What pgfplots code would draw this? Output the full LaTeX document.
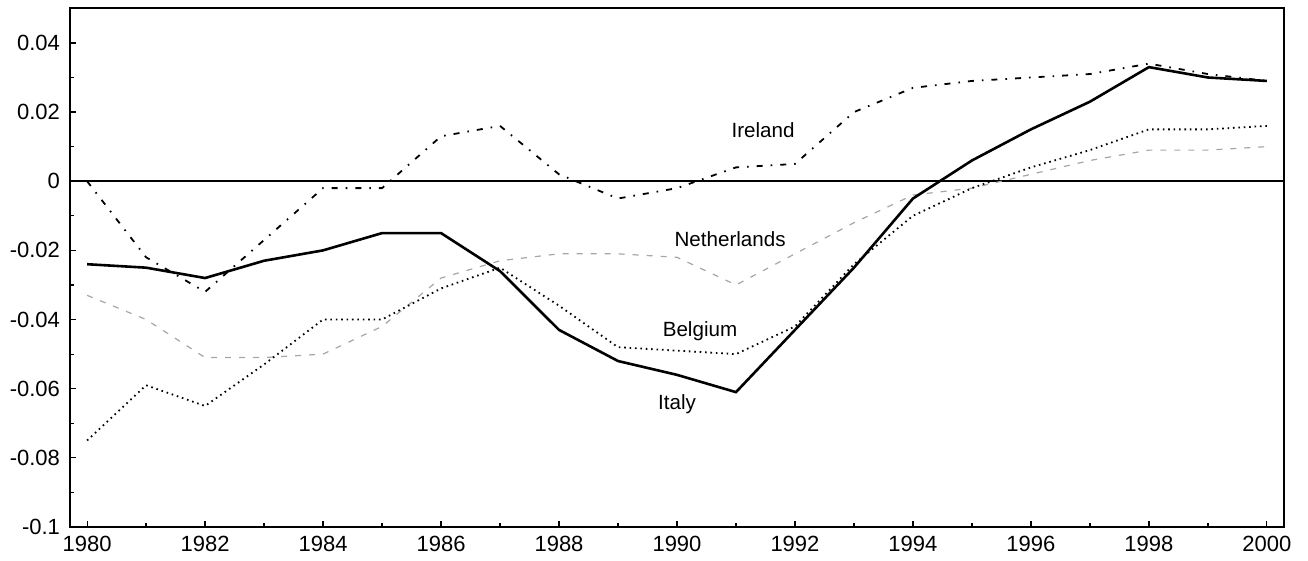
\documentclass[border=0pt]{standalone}
\usepackage{fontspec}
\setmainfont{Liberation Sans}
\usepackage{pgfplots}
\pgfplotsset{compat=1.18}
\begin{document}
\begin{tikzpicture}
\begin{axis}[
  scale only axis,
  width=607pt, height=259.5pt,
  xmin=1979.71, xmax=2000.29,
  ymin=-0.1, ymax=0.0501,
  axis line style={line width=1pt},
  xtick={1980,1982,...,2000},
  xticklabels={1980,1982,1984,1986,1988,1990,1992,1994,1996,1998,2000},
  minor xtick={1981,1983,...,1999},
  ytick={-0.1,-0.08,-0.06,-0.04,-0.02,0,0.02,0.04},
  yticklabels={-0.1,-0.08,-0.06,-0.04,-0.02,0,0.02,0.04},
  minor ytick={-0.09,-0.07,-0.05,-0.03,-0.01,0.01,0.03},
  tick align=inside,
  major tick length=3pt, minor tick length=2pt,
  tick style={black, line width=0.6pt},
  xtick pos=bottom, ytick pos=left,
  tick label style={font=\fontsize{11}{13}\selectfont},
  every x tick label/.style={yshift=-1pt},
  every y tick label/.style={xshift=-1.5pt},
  clip=false,
]
\path (rel axis cs:0,0) ++(-35pt,-17pt) (rel axis cs:1,1) ++(12pt,4pt);
\addplot[black, line width=1pt, forget plot] coordinates {(1979.71,0) (2000.29,0)};
% Netherlands
\addplot[gray!70, line width=0.6pt, dash pattern=on 3pt off 4pt] coordinates {
(1980,-0.033) (1981,-0.040) (1982,-0.051) (1983,-0.051) (1984,-0.050) (1985,-0.042)
(1986,-0.028) (1987,-0.023) (1988,-0.021) (1989,-0.021) (1990,-0.022) (1991,-0.030)
(1992,-0.021) (1993,-0.012) (1994,-0.004) (1995,-0.002) (1996,0.002) (1997,0.006)
(1998,0.009) (1999,0.009) (2000,0.010)};
% Belgium
\addplot[black, line width=0.9pt, dash pattern=on 0.8pt off 1.9pt] coordinates {
(1980,-0.075) (1981,-0.059) (1982,-0.065) (1983,-0.053) (1984,-0.040) (1985,-0.040)
(1986,-0.031) (1987,-0.025) (1988,-0.036) (1989,-0.048) (1990,-0.049) (1991,-0.050)
(1992,-0.042) (1993,-0.024) (1994,-0.010) (1995,-0.002) (1996,0.004) (1997,0.009)
(1998,0.015) (1999,0.015) (2000,0.016)};
% Ireland
\addplot[black, line width=0.9pt, dash pattern=on 3pt off 4pt on 0.8pt off 4pt] coordinates {
(1980,0.000) (1981,-0.022) (1982,-0.032) (1983,-0.017) (1984,-0.002) (1985,-0.002)
(1986,0.013) (1987,0.016) (1988,0.002) (1989,-0.005) (1990,-0.002) (1991,0.004)
(1992,0.005) (1993,0.020) (1994,0.027) (1995,0.029) (1996,0.030) (1997,0.031)
(1998,0.034) (1999,0.031) (2000,0.029)};
% Italy
\addplot[black, line width=1.3pt] coordinates {
(1980,-0.024) (1981,-0.025) (1982,-0.028) (1983,-0.023) (1984,-0.020) (1985,-0.015)
(1986,-0.015) (1987,-0.026) (1988,-0.043) (1989,-0.052) (1990,-0.056) (1991,-0.061)
(1992,-0.043) (1993,-0.025) (1994,-0.005) (1995,0.006) (1996,0.015) (1997,0.023)
(1998,0.033) (1999,0.030) (2000,0.029)};
\node[font=\fontsize{10.3}{12}\selectfont] at (axis cs:1991.46,0.0148) {Ireland};
\node[font=\fontsize{10.3}{12}\selectfont] at (axis cs:1990.9,-0.0168) {Netherlands};
\node[font=\fontsize{10.3}{12}\selectfont] at (axis cs:1990.39,-0.0435) {Belgium};
\node[font=\fontsize{10.3}{12}\selectfont] at (axis cs:1990.0,-0.0646) {Italy};
\end{axis}
\end{tikzpicture}
\end{document}
